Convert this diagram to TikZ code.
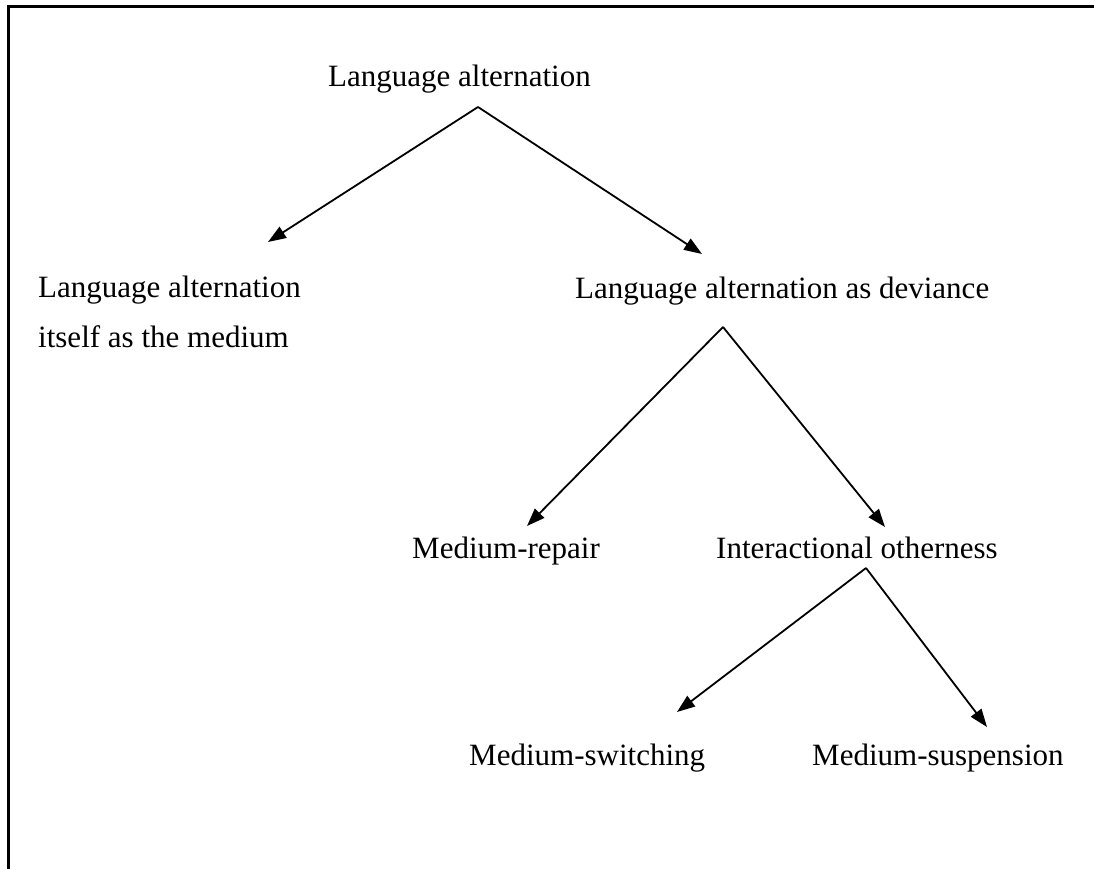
\documentclass[tikz,border=0pt]{standalone}
\usepackage{fontspec}
\setmainfont{Liberation Serif}
\usetikzlibrary{arrows.meta}
\tikzset{
  lbl/.style={anchor=base west, inner sep=0pt, font=\fontsize{31}{37}\selectfont},
  conn/.style={line width=1.8pt, -{Triangle[length=18pt,width=13pt]}},
  frameline/.style={line width=3pt}
}
\begin{document}
\begin{tikzpicture}[x=1pt,y=-1pt]
\useasboundingbox (0,0) rectangle (1094,869);
% frame (top and left edges only)
\draw[frameline] (8,869) -- (8,7) -- (1094,7);
% labels
\node[lbl] (root) at (328,87) {Language alternation};
\node[lbl] (medA) at (38,297) {Language alternation};
\node[lbl] (medB) at (38,347) {itself as the medium};
\node[lbl] (dev) at (575,298) {Language alternation as deviance};
\node[lbl] (rep) at (412,558) {Medium-repair};
\node[lbl] (oth) at (716,558) {Interactional otherness};
\node[lbl] (swi) at (469,765) {Medium-switching};
\node[lbl] (sus) at (812,765) {Medium-suspension};
% connector points
\coordinate (a1) at (478,107);
\coordinate (t1l) at (268,242);
\coordinate (t1r) at (702,254);
\coordinate (a2) at (723,327);
\coordinate (t2l) at (527,526);
\coordinate (t2r) at (885,527);
\coordinate (a3) at (866,568);
\coordinate (t3l) at (677,712);
\coordinate (t3r) at (987,727);
% connectors
\draw[conn] (a1) -- (t1l);
\draw[conn] (a1) -- (t1r);
\draw[conn] (a2) -- (t2l);
\draw[conn] (a2) -- (t2r);
\draw[conn] (a3) -- (t3l);
\draw[conn] (a3) -- (t3r);
\end{tikzpicture}
\end{document}
